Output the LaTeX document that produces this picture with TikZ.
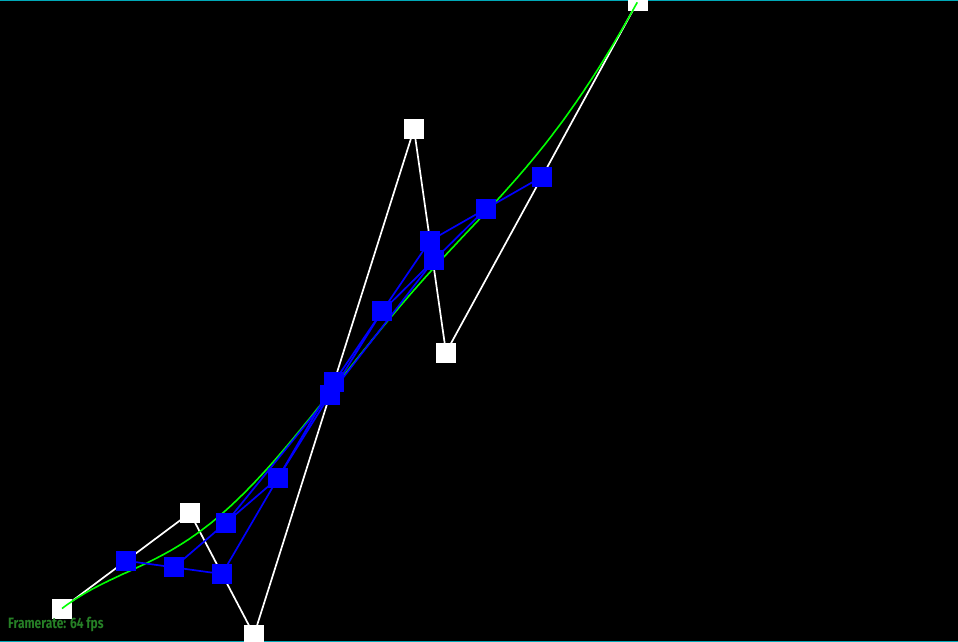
\documentclass[tikz,border=0pt]{standalone}
\usepackage{fontspec}
\usepackage{graphicx}
\newfontfamily\fpsfont{Fira Sans}
\usetikzlibrary{calc}
\definecolor{fpsgreen}{RGB}{38,128,38}
\definecolor{edgecyan}{RGB}{0,168,184}
\definecolor{ptblue}{RGB}{0,0,255}
\definecolor{curvegreen}{RGB}{0,255,0}
\pgfdeclarelayer{bgfill}
\pgfdeclarelayer{wl}
\pgfdeclarelayer{ws}
\pgfdeclarelayer{gc}
\pgfdeclarelayer{bl}
\pgfsetlayers{bgfill,wl,ws,gc,bl,main}
\tikzset{
  whitesq/.style={draw=none,fill=white,minimum size=20pt,inner sep=0pt,outer sep=0pt},
  bluesq/.style={draw=none,fill=ptblue,minimum size=20pt,inner sep=0pt,outer sep=0pt},
  whiteline/.style={draw=white,line width=1.7pt},
  blueline/.style={draw=ptblue,line width=1.7pt},
  greencurve/.style={draw=curvegreen,line width=1.6pt},
  edgeline/.style={draw=edgecyan,line width=1.5pt},
  fpslabel/.style={text=fpsgreen,inner sep=0pt,anchor=base west,font=\fpsfont\bfseries\fontsize{15}{15}\selectfont}
}
\begin{document}
\begin{tikzpicture}[x=1pt,y=-1pt]
\useasboundingbox (0,0) rectangle (958,642);
\begin{pgfonlayer}{bgfill}
  \fill[black] (0,0) rectangle (958,642);
  \draw[edgeline] (0,0.75) -- (958,0.75);
  \draw[edgeline] (0,641.25) -- (958,641.25);
\end{pgfonlayer}
% control points
\begin{pgfonlayer}{ws}
  \node[whitesq] (P0) at (62,608.5) {};
  \node[whitesq] (P1) at (190,513) {};
  \node[whitesq] (P2) at (254,635) {};
  \node[whitesq] (P3) at (414,129) {};
  \node[whitesq] (P4) at (446,352.5) {};
  \node[whitesq] (P5) at (638,1) {};
\end{pgfonlayer}
\begin{pgfonlayer}{wl}
  \draw[whiteline] (P0.center) -- (P1.center) -- (P2.center) -- (P3.center) -- (P4.center) -- (P5.center);
\end{pgfonlayer}
% de Casteljau levels
\node[bluesq] (Q0) at ($(P0.center)!0.5!(P1.center)$) {};
\node[bluesq] (Q1) at ($(P1.center)!0.5!(P2.center)$) {};
\node[bluesq] (Q2) at ($(P2.center)!0.5!(P3.center)$) {};
\node[bluesq] (Q3) at ($(P3.center)!0.5!(P4.center)$) {};
\node[bluesq] (Q4) at ($(P4.center)!0.5!(P5.center)$) {};
\node[bluesq] (R0) at ($(Q0.center)!0.5!(Q1.center)$) {};
\node[bluesq] (R1) at ($(Q1.center)!0.5!(Q2.center)$) {};
\node[bluesq] (R2) at ($(Q2.center)!0.5!(Q3.center)$) {};
\node[bluesq] (R3) at ($(Q3.center)!0.5!(Q4.center)$) {};
\node[bluesq] (S0) at ($(R0.center)!0.5!(R1.center)$) {};
\node[bluesq] (S1) at ($(R1.center)!0.5!(R2.center)$) {};
\node[bluesq] (S2) at ($(R2.center)!0.5!(R3.center)$) {};
\begin{pgfonlayer}{bl}
  \draw[blueline] (Q0.center) -- (Q1.center) -- (Q2.center) -- (Q3.center) -- (Q4.center);
  \draw[blueline] (R0.center) -- (R1.center) -- (R2.center) -- (R3.center);
  \draw[blueline] (S0.center) -- (S1.center) -- (S2.center);
\end{pgfonlayer}
\begin{pgfonlayer}{gc}
  \draw[greencurve] plot[domain=0:1,samples=240,variable=\t,smooth]
   ({(1-\t)^5*62+5*\t*(1-\t)^4*190+10*\t^2*(1-\t)^3*254+10*\t^3*(1-\t)^2*414+5*\t^4*(1-\t)*446+\t^5*638},
    {(1-\t)^5*608.5+5*\t*(1-\t)^4*513+10*\t^2*(1-\t)^3*635+10*\t^3*(1-\t)^2*129+5*\t^4*(1-\t)*352.5+\t^5*1});
\end{pgfonlayer}
\node[fpslabel] (fps) at (8,628.5) {\scalebox{0.8}[1]{Framerate: 64 fps}};
\end{tikzpicture}
\end{document}
